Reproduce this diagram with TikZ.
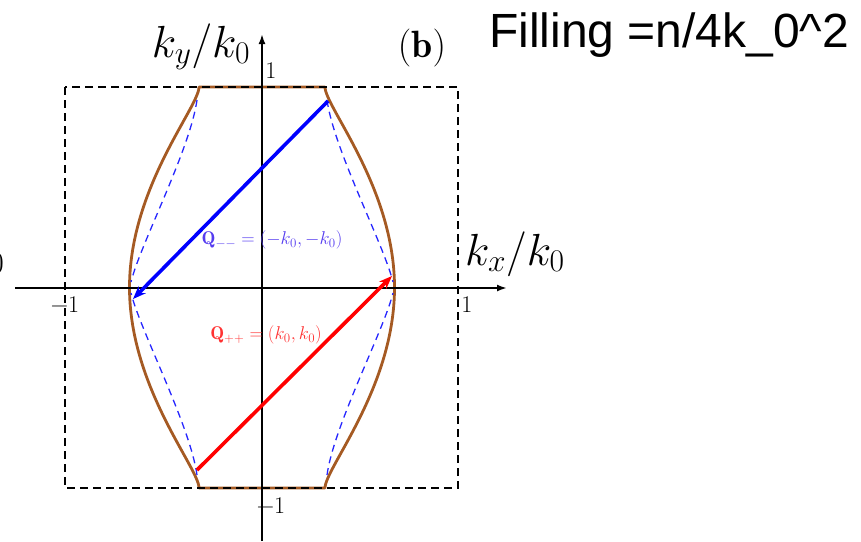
\RequirePackage{fix-cm}
\documentclass[tikz,border=0pt]{standalone}
\usepackage{fontspec}
\newfontfamily\arialfont{Liberation Sans}
\usetikzlibrary{arrows.meta}
\definecolor{fsbrown}{RGB}{165,90,35}
\definecolor{qblue}{RGB}{85,60,240}
\definecolor{qred}{RGB}{255,50,50}
\begin{document}
\begin{tikzpicture}[x=1pt,y=-1pt,
  axisline/.style={line width=2.6pt,-{Latex[length=10pt,width=7pt]}},
  bzbox/.style={line width=1.6pt,dash pattern=on 8pt off 5pt},
  fsline/.style={line width=2.8pt,fsbrown,line join=round},
  nestline/.style={line width=1.3pt,blue!85!white,dash pattern=on 7pt off 5pt},
  qarrow/.style={line width=3.6pt,-{Stealth[length=13pt,width=10pt]}},
  ticklbl/.style={font=\fontsize{24}{24}\selectfont,inner sep=0pt},
  axlbl/.style={font=\fontsize{45}{45}\selectfont,inner sep=0pt},
  qlbl/.style={font=\fontsize{18.5}{18.5}\selectfont,inner sep=0pt}]
\useasboundingbox (0,0) rectangle (861,541);

% Fermi surface (brown)
\draw[fsline] (199,87) -- (325,87)
  .. controls (325,107) and (394.5,187.5) .. (394.5,287.5)
  .. controls (394.5,387.5) and (325,468) .. (325,488)
  -- (199,488)
  .. controls (199,468) and (129.5,387.5) .. (129.5,287.5)
  .. controls (129.5,187.5) and (199,107) .. cycle;

% dashed zone box
\coordinate (bzA) at (65,87);
\coordinate (bzB) at (458,488);
\draw[bzbox] (bzA) rectangle (bzB);

% nested (blue dashed) curves
\draw[nestline] (327,100) .. controls (334,150) and (384,245) .. (393,282);
\draw[nestline] (327,475) .. controls (334,425) and (384,330) .. (393,293);
\draw[nestline] (197,100) .. controls (190,150) and (140,245) .. (131,282);
\draw[nestline] (197,475) .. controls (190,425) and (140,330) .. (131,293);

% axes
\coordinate (xs) at (15,288);
\coordinate (xe) at (507,288);
\coordinate (ys) at (262,541);
\coordinate (ye) at (262,34);
\draw[axisline] (xs) -- (xe);
\draw[axisline] (ys) -- (ye);

% nesting vectors
\coordinate (qmS) at (328,101);
\coordinate (qmE) at (133,299);
\coordinate (qpS) at (197,470);
\coordinate (qpE) at (392,276);
\draw[qarrow,blue] (qmS) -- (qmE);
\draw[qarrow,red] (qpS) -- (qpE);

% labels
\node[axlbl,anchor=base] (kyl) at (201,57) {$k_y/k_0$};
\node[axlbl,anchor=base west] (kxl) at (465,265) {$k_x/k_0$};
\node[font=\fontsize{38}{38}\selectfont,inner sep=0pt,anchor=base] (pb) at (422,57) {$(\mathbf{b})$};
\node[font=\fontsize{48}{48}\selectfont\arialfont,inner sep=0pt,anchor=base west] (fill) at (489,47) {Filling =n/4k\_0\^{}2};
\node[font=\fontsize{31}{31}\selectfont,inner sep=0pt,anchor=east] (cut) at (4,263) {0};

\node[ticklbl] (t1) at (271,71) {1};
\node[ticklbl] (t2) at (467,305) {1};
\node[ticklbl] (t3) at (65,305) {−1};
\node[ticklbl] (t4) at (271,506) {−1};

\node[qlbl,text=qblue] (qml) at (272,240) {$\mathbf{Q}_{--}=(-k_0,-k_0)$};
\node[qlbl,text=qred] (qpl) at (266,335) {$\mathbf{Q}_{++}=(k_0,k_0)$};
\end{tikzpicture}
\end{document}
